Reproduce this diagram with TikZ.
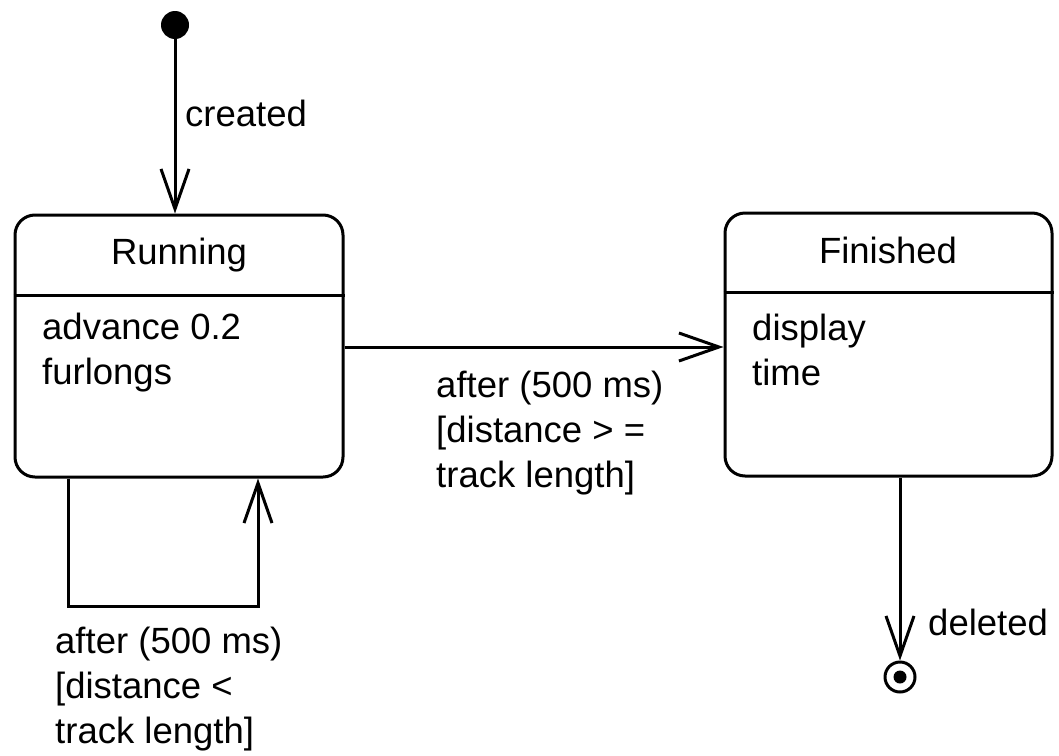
\documentclass[tikz,border=0pt]{standalone}
\usepackage{fontspec}
\setmainfont{Liberation Sans}
\usetikzlibrary{arrows.meta}
\begin{document}
\begin{tikzpicture}[x=1pt,y=-1pt,
  every node/.style={font=\fontsize{36.5}{45}\selectfont, inner sep=0pt},
  txt/.style={anchor=west, align=left},
  state/.style={draw, line width=3pt, rounded corners=20pt},
  conn/.style={line width=3pt, -{Straight Barb[length=40pt,width=28pt]}},
  plain/.style={line width=3pt}
]
\useasboundingbox (0,0) rectangle (1059,755);

% states
\node[state, minimum width=328pt, minimum height=262pt] (run) at (179,346) {};
\node[state, minimum width=327pt, minimum height=263pt] (fin) at (888.5,344.5) {};
\coordinate (runsep) at (0,295);
\coordinate (finsep) at (0,292);
\draw[plain] (run.west |- runsep) -- (run.east |- runsep);
\draw[plain] (fin.west |- finsep) -- (fin.east |- finsep);
\node (runtitle) at (179,255) {Running};
\node (fintitle) at (888,250) {Finished};
\node[txt] (runbody) at (42,353) {advance 0.2\\furlongs};
\node[txt] (finbody) at (752,350) {display\\time};

% pseudo states
\node[circle, fill, minimum size=28pt] (init) at (175,25) {};
\node[circle, draw, line width=3pt, minimum size=30pt] (final) at (900,677) {};
\node[circle, fill, minimum size=13pt] (finaldot) at (final) {};

% transitions
\draw[conn] (init) -- (init |- run.north);
\node[txt] (created) at (185,113) {created};

\coordinate (mainrow) at (0,347);
\draw[conn] (run.east |- mainrow) -- (fin.west |- mainrow);
\node[txt] (donelabel) at (436,433) {after (500 ms)\\{}[distance > =\\track length]};

\coordinate (loopL) at (68,606);
\coordinate (loopR) at (258,606);
\draw[conn] (run.south -| loopL) -- (loopL) -- (loopR) -- (run.south -| loopR);
\node[txt] (looplabel) at (55,689) {after (500 ms)\\{}[distance <\\track length]};

\draw[conn] (fin.south -| final) -- (final.north);
\node[txt] (deleted) at (928,622) {deleted};
\end{tikzpicture}
\end{document}
